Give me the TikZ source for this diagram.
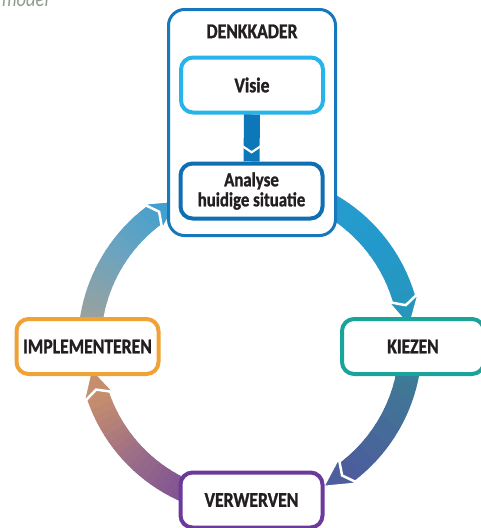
\documentclass[tikz,border=0pt]{standalone}
\usepackage{fontspec}
\setmainfont{Carlito}[FakeStretch=0.84, BoldFeatures={FakeBold=1.2}]
\usetikzlibrary{positioning}
\tikzset{>=stealth}

\definecolor{inkdark}{HTML}{231F20}
\definecolor{captiongray}{HTML}{8E9C8C}
\definecolor{kaderblue}{HTML}{1778BD}
\definecolor{visieblue}{HTML}{27B4EA}
\definecolor{analyseblue}{HTML}{0E6FB2}
\definecolor{barblue}{HTML}{0C78B9}
\definecolor{kiezenteal}{HTML}{1AA39A}
\definecolor{verwervenpurple}{HTML}{6B3A9B}
\definecolor{implorange}{HTML}{EFA236}
\definecolor{ringA}{HTML}{2FA0D4}
\definecolor{ringB}{HTML}{2399CC}
\definecolor{ringC}{HTML}{2795BC}
\definecolor{ringD}{HTML}{3F7895}
\definecolor{ringE}{HTML}{4C5E9C}
\definecolor{ringF}{HTML}{5A48A0}
\definecolor{ringG}{HTML}{7A4E96}
\definecolor{ringH}{HTML}{9A6C88}
\definecolor{ringI}{HTML}{C58E6D}
\definecolor{ringJ}{HTML}{B49A86}
\definecolor{ringK}{HTML}{94A2A2}
\definecolor{ringL}{HTML}{6BA3C0}
\definecolor{ringM}{HTML}{41A0D0}

\tikzset{
  stagebox/.style={draw, line width=4pt, rounded corners=12pt, fill=white,
    text=inkdark, minimum width=142pt, minimum height=55pt, align=center,
    font=\bfseries\fontsize{21}{21}\selectfont},
  ring/.style={line width=23pt},
}

% arrowhead on the ring, #1 = angle of its back, #2 = colour
\newcommand{\ringhead}[2]{%
  \draw[white, line width=27pt] ([shift={(#1+3:160.5)}]ctr)
    arc[start angle=#1+3, delta angle=20, radius=160.5];
  \filldraw[fill=#2, draw=white, line width=2.5pt]
    ([shift={(#1:177)}]ctr) -- ([shift={(#1+11:160.5)}]ctr)
    -- ([shift={(#1:144)}]ctr) -- ([shift={(#1+3:160.5)}]ctr) -- cycle;
}

\begin{document}
\begin{tikzpicture}[x=1pt, y=-1pt]
    \useasboundingbox (0,0) rectangle (480,528);
    \node[text=captiongray, anchor=base east, inner sep=0pt,
      font=\itshape\fontsize{22}{22}\selectfont] (model) at (49,6.5) {model};

    \coordinate (ctr) at (250,344);
    % gradient ring
    \foreach \a/\b/\ca/\cb in {-90/-40/ringA/ringB, -40/-10/ringB/ringC,
        -10/15/ringC/ringD, 15/50/ringD/ringE, 50/80/ringE/ringF,
        80/110/ringF/ringG, 110/135/ringG/ringH, 135/160/ringH/ringI,
        160/180/ringI/ringJ, 180/192/ringJ/ringK, 192/215/ringK/ringL,
        215/240/ringL/ringM, 240/270/ringM/ringA}{
      \foreach \s in {0,...,9}{
        \pgfmathsetmacro\ang{\a+(\b-\a)*\s/10}
        \pgfmathsetmacro\dlt{(\b-\a)/10+0.4}
        \pgfmathtruncatemacro\pct{\s*10+5}
        \draw[ring, draw=\cb!\pct!\ca] ([shift={(\ang:160.5)}]ctr)
          arc[start angle=\ang, delta angle=\dlt, radius=160.5];
      }
    }
    \ringhead{343}{ringC}
    \ringhead{52}{ringE}
    \ringhead{160.5}{ringI}
    \ringhead{232.5}{ringM}

    % denkkader
    \node[draw=kaderblue, line width=3pt, rounded corners=16pt, fill=white,
      minimum width=167pt, minimum height=226pt] (kader) at (252,122.5) {};
    \node[text=inkdark, font=\bfseries\fontsize{21}{21}\selectfont,
      below=13pt of kader.north] (kadertitel) {DENKKADER};
    \node[stagebox, draw=visieblue] (visie) at (252,85) {Visie};
    \node[stagebox, draw=analyseblue, font=\bfseries\fontsize{20}{20}\selectfont]
      (analyse) at (251.5,191) {Analyse\\huidige situatie};
    \draw[line width=16pt, barblue] (visie.south) -- (analyse.north);
    \path (visie.south) -- (analyse.north) coordinate[pos=0.75] (vtip);
    \draw[white, line width=2.2pt] ([xshift=-9pt,yshift=3.5pt]vtip)
      -- ([yshift=-2.5pt]vtip) -- ([xshift=9pt,yshift=3.5pt]vtip);

    % stages
    \node[stagebox, draw=kiezenteal] (kiezen) at (413,346.5) {KIEZEN};
    \node[stagebox, draw=verwervenpurple] (verwerven) at (251.5,500) {VERWERVEN};
    \node[stagebox, draw=implorange] (implementeren) at (87.5,346.5) {IMPLEMENTEREN};
\end{tikzpicture}
\end{document}
